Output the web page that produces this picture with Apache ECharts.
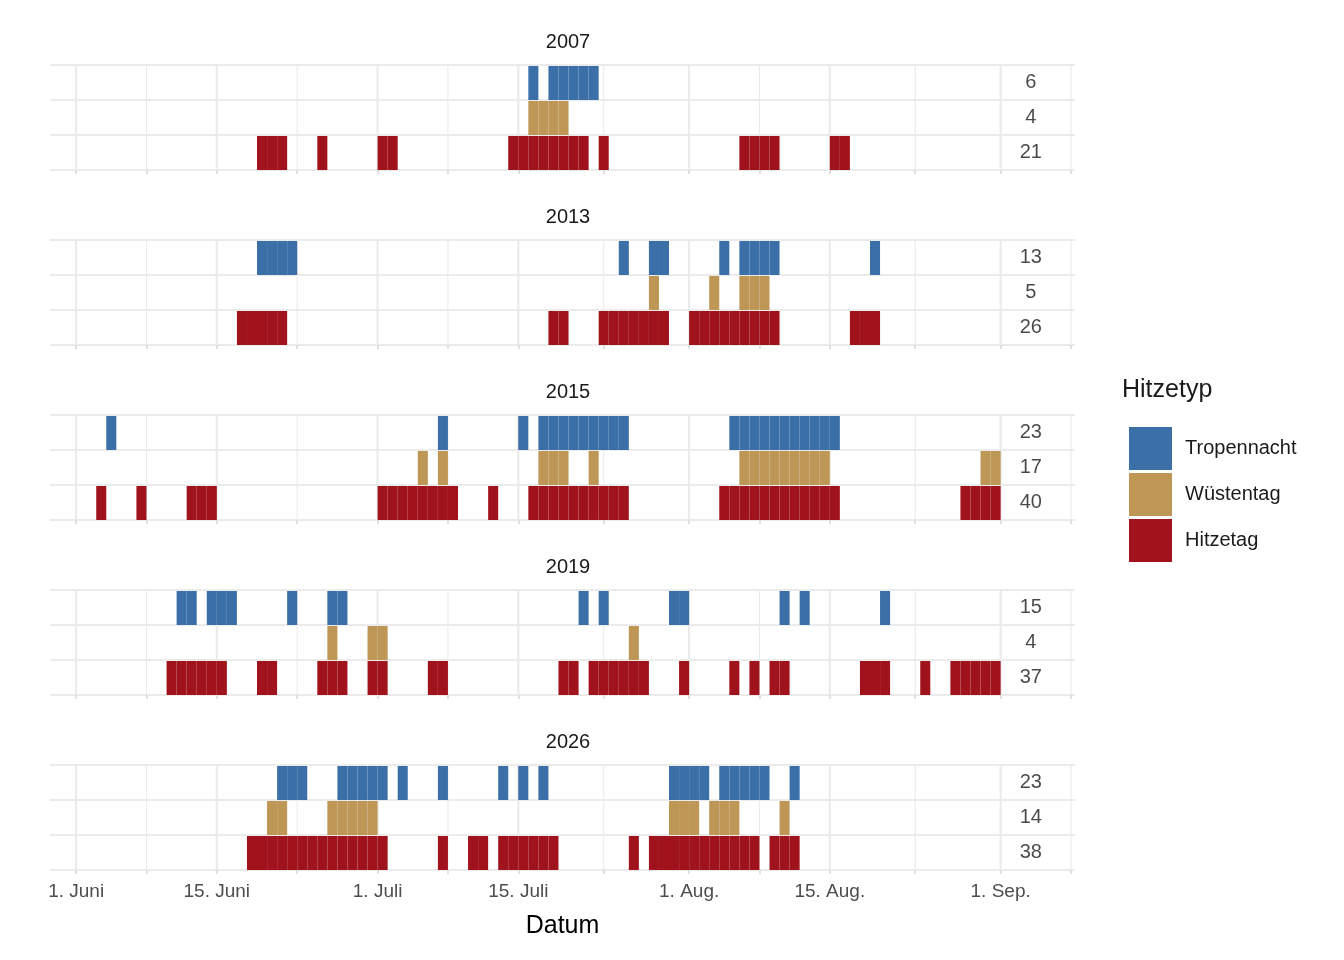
<!DOCTYPE html>
<html>
<head>
<meta charset="utf-8">
<script src="https://cdn.jsdelivr.net/npm/echarts@6/dist/echarts.min.js"></script>
<style>html,body{margin:0;background:#fff}#main{width:1344px;height:960px}</style>
</head>
<body>
<div id="main"></div>
<script>
// Jahre und Hitzetypen
const years = ["2007", "2013", "2015", "2019", "2026"];
const types = ["Hitzetag", "Wüstentag", "Tropennacht"]; // Zeile 0 unten
const colors = { Tropennacht: "#3A6FA8", "Wüstentag": "#BE9656", Hitzetag: "#A0131D" };

// Tage als Bereiche [von, bis], Tag 0 = 1. Juni
const tropennacht = [
  [[45, 45], [47, 51]],
  [[18, 21], [54, 54], [57, 58], [64, 64], [66, 69], [79, 79]],
  [[3, 3], [36, 36], [44, 44], [46, 54], [65, 75]],
  [[10, 11], [13, 15], [21, 21], [25, 26], [50, 50], [52, 52], [59, 60], [70, 70], [72, 72], [80, 80]],
  [[20, 22], [26, 30], [32, 32], [36, 36], [42, 42], [44, 44], [46, 46], [59, 62], [64, 68], [71, 71]],
];
const wuestentag = [
  [[45, 48]],
  [[57, 57], [63, 63], [66, 68]],
  [[34, 34], [36, 36], [46, 48], [51, 51], [66, 74], [90, 91]],
  [[25, 25], [29, 30], [55, 55]],
  [[19, 20], [25, 29], [59, 61], [63, 65], [70, 70]],
];
const hitzetag = [
  [[18, 20], [24, 24], [30, 31], [43, 50], [52, 52], [66, 69], [75, 76]],
  [[16, 20], [47, 48], [52, 58], [61, 69], [77, 79]],
  [[2, 2], [6, 6], [11, 13], [30, 37], [41, 41], [45, 54], [64, 75], [88, 91]],
  [[9, 14], [18, 19], [24, 26], [29, 30], [35, 36], [48, 49], [51, 56], [60, 60], [65, 65], [67, 67], [69, 70], [78, 80], [84, 84], [87, 91]],
  [[17, 30], [36, 36], [39, 40], [42, 47], [55, 55], [57, 67], [69, 71]],
];

// Achsenbeschriftung
const tickDays = [0, 14, 30, 44, 61, 75, 92];
const tickLabels = ["1. Juni", "15. Juni", "1. Juli", "15. Juli", "1. Aug.", "15. Aug.", "1. Sep."];
const minorDays = [7, 22, 37, 52.5, 68, 83.5, 99];

const expand = (ranges) => {
  const days = [];
  ranges.forEach(([a, b]) => { for (let d = a; d <= b; d++) days.push(d); });
  return days;
};

const typeData = { Tropennacht: tropennacht, "Wüstentag": wuestentag, Hitzetag: hitzetag };

const grids = [], xAxes = [], yAxes = [], series = [], titles = [];
years.forEach((year, i) => {
  const top = 65 + i * 175;
  grids.push({ left: 50, width: 1025, top: top, height: 105 });
  const last = i === years.length - 1;
  xAxes.push({
    gridIndex: i, type: "value", min: -2.6, max: 99.4,
    splitLine: { show: false },
    axisLine: { show: false },
    axisTick: { show: true, customValues: tickDays.concat(minorDays), length: 4, lineStyle: { color: "#e0e0e0", width: 2 } },
    axisLabel: {
      show: last, customValues: tickDays, color: "#4d4d4d", fontSize: 19, margin: 12,
      fontFamily: "Liberation Sans",
      formatter: (v) => tickLabels[tickDays.indexOf(Math.round(v))] || "",
    },
    name: last ? "Datum" : "", nameLocation: "middle", nameGap: 44,
    nameTextStyle: { fontSize: 25, color: "#000", fontFamily: "Liberation Sans" },
  });
  yAxes.push({
    gridIndex: i, type: "value", min: 0, max: 3, interval: 1,
    axisLabel: { show: false }, axisLine: { show: false }, axisTick: { show: false },
    splitLine: { lineStyle: { color: "#ebebeb", width: 2.2 } },
  });
  titles.push({ text: year, left: 563, top: top - 38, textAlign: "center",
    textStyle: { fontSize: 20, fontWeight: "normal", color: "#1a1a1a", fontFamily: "Liberation Sans" } });

  // vertikale Gitterlinien
  series.push({
    type: "custom", xAxisIndex: i, yAxisIndex: i, silent: true, z: 1,
    data: tickDays.map((d) => [d, 1]).concat(minorDays.map((d) => [d, 0])),
    renderItem: (params, api) => {
      const p0 = api.coord([api.value(0), 0]);
      const p1 = api.coord([api.value(0), 3]);
      return { type: "line", shape: { x1: p0[0], y1: p0[1], x2: p1[0], y2: p1[1] },
        style: { stroke: "#ebebeb", lineWidth: api.value(1) ? 2.2 : 1.1 } };
    },
  });

  // Tageskacheln
  types.forEach((t, row) => {
    series.push({
      name: t, type: "custom", xAxisIndex: i, yAxisIndex: i, z: 2,
      itemStyle: { color: colors[t] },
      data: expand(typeData[t][i]).map((d) => [d, row]),
      renderItem: (params, api) => {
        const a = api.coord([api.value(0), api.value(1) + 1]);
        const b = api.coord([api.value(0) + 1, api.value(1)]);
        return { type: "rect", shape: { x: a[0], y: a[1] + 1, width: b[0] - a[0], height: b[1] - a[1] - 1 },
          style: { fill: colors[t] } };
      },
    });
  });

  // Anzahl Tage rechts
  series.push({
    type: "scatter", xAxisIndex: i, yAxisIndex: i, symbolSize: 0, silent: true,
    data: types.map((t, row) => [95, row + 0.5, expand(typeData[t][i]).length]),
    label: { show: true, position: "inside", formatter: (p) => p.value[2],
      fontSize: 20, color: "#1a1a1a", fontFamily: "Liberation Sans" },
  });
});

var myChart = echarts.init(document.getElementById("main"));
myChart.setOption({
  animation: false,
  title: titles,
  grid: grids,
  xAxis: xAxes,
  yAxis: yAxes,
  legend: {
    data: ["Tropennacht", "Wüstentag", "Hitzetag"],
    orient: "vertical", left: 1124, top: 422, itemWidth: 43, itemHeight: 43, itemGap: 3,
    icon: "rect", textStyle: { fontSize: 20, color: "#1a1a1a", fontFamily: "Liberation Sans", padding: [0, 0, 0, 8] },
  },
  graphic: [{ type: "text", left: 1122, top: 378,
    style: { text: "Hitzetyp", fontSize: 25, fill: "#1a1a1a", fontFamily: "Liberation Sans" } }],
  series: series,
});
</script>
</body>
</html>
